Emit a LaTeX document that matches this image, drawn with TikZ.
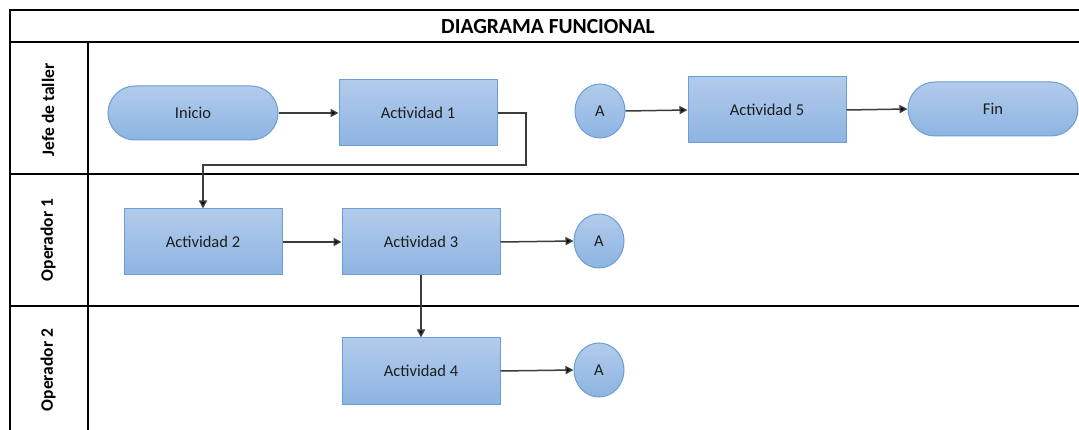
\documentclass[tikz,border=0pt]{standalone}
\usepackage{fontspec}
\setmainfont{Carlito}
\usetikzlibrary{shapes.geometric,arrows.meta}
\definecolor{boxtop}{RGB}{178,203,235}
\definecolor{boxbot}{RGB}{141,180,226}
\definecolor{boxline}{RGB}{108,158,214}
\definecolor{txt}{RGB}{30,30,30}
\definecolor{wire}{RGB}{60,60,60}
\tikzset{
  shapebase/.style={draw=boxline, line width=1pt, top color=boxtop, bottom color=boxbot,
    text=txt, font=\fontsize{16.5}{19}\selectfont, inner sep=0pt},
  actbox/.style={shapebase, rectangle, minimum width=158pt, minimum height=66pt},
  pill/.style={shapebase, rectangle, rounded corners=27pt, minimum width=170pt, minimum height=54pt},
  connector/.style={shapebase, ellipse, minimum width=50pt, minimum height=54pt},
  flow/.style={draw=wire, line width=1.5pt, -{Triangle[length=8pt,width=8pt,fill=black]}},
  heavy/.style={line width=2pt, black},
  lane/.style={line width=1.3pt, black},
  lanelabel/.style={rotate=90, font=\bfseries\fontsize{17.5}{20}\selectfont, text=black},
}
\begin{document}
\begin{tikzpicture}[x=1pt,y=-1pt]
\useasboundingbox (0,0) rectangle (1079,430);
\fill[white] (0,0) rectangle (1079,430);

% pool frame and lanes
\draw[heavy] (1079,10) -- (10,10) -- (10,430);
\draw[heavy] (10,42) -- (1079,42);
\draw[lane] (10,174) -- (1079,174);
\draw[lane] (10,306) -- (1079,306);
\draw[lane] (88,42) -- (88,430);

\node[font=\bfseries\fontsize{21.5}{24}\selectfont] (title) at (548,27) {DIAGRAMA FUNCIONAL};
\node[lanelabel] (l1) at (48,110) {Jefe de taller};
\node[lanelabel] (l2) at (48,240) {Operador 1};
\node[lanelabel] (l3) at (48,370) {Operador 2};

% flow elements
\node[pill] (inicio) at (193,113) {Inicio};
\node[actbox] (a1) at (418,113) {Actividad 1};
\node[connector] (ca) at (600,111) {A};
\node[actbox] (a5) at (767,110) {Actividad 5};
\node[pill] (fin) at (993,109) {Fin};
\node[actbox] (a2) at (203,242) {Actividad 2};
\node[actbox] (a3) at (421,242) {Actividad 3};
\node[connector] (cb) at (599,241) {A};
\node[actbox] (a4) at (421,371) {Actividad 4};
\node[connector] (cc) at (599,370) {A};

% connectors
\coordinate (turn) at (526,165);
\draw[flow] (inicio.east) -- (a1.west);
\draw[flow] (ca.east) -- (a5.west);
\draw[flow] (a5.east) -- (fin.west);
\draw[flow] (a1.east) -| (turn) -| (a2.north);
\draw[flow] (a2.east) -- (a3.west);
\draw[flow] (a3.east) -- (cb.west);
\draw[flow] (a3.south) -- (a4.north);
\draw[flow] (a4.east) -- (cc.west);
\end{tikzpicture}
\end{document}
